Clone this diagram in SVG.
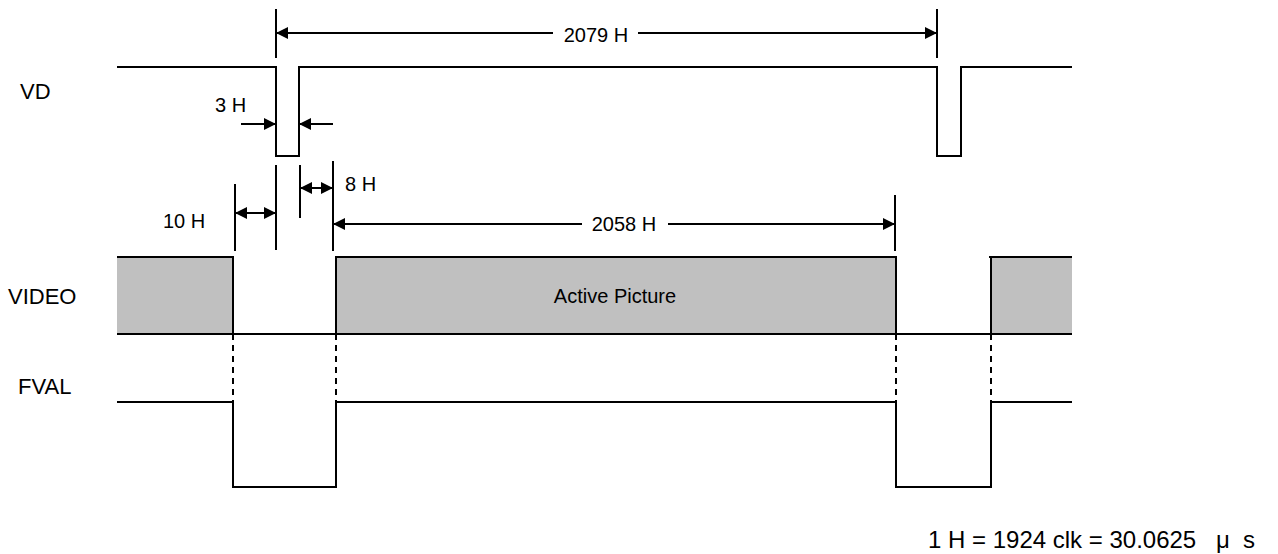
<svg xmlns="http://www.w3.org/2000/svg" width="1278" height="554" viewBox="0 0 1278 554">
<style>
  .sig{fill:none;stroke:#000;stroke-width:2;stroke-linejoin:miter;stroke-linecap:butt}
  .dim{fill:none;stroke:#000;stroke-width:2}
  .dash{fill:none;stroke:#000;stroke-width:2;stroke-dasharray:6 5}
  .gray{fill:#c0c0c0;stroke:none}
  text{font-family:"Liberation Sans",Arial,sans-serif;fill:#000}
  .lbl{font-size:22px}
  .dl{font-size:20px}
  .note{font-size:24px}
</style>
<defs>
  <marker id="ah" viewBox="0 0 10 10" markerUnits="userSpaceOnUse" markerWidth="12" markerHeight="12" refX="10" refY="5" orient="auto-start-reverse">
    <path d="M0,0 L10,5 L0,10 z" fill="#000"/>
  </marker>
</defs>
<rect width="1278" height="554" fill="#fff"/>

<g id="labels">
  <text class="lbl" x="20" y="99">VD</text>
  <text class="lbl" x="8" y="304">VIDEO</text>
  <text class="lbl" x="18" y="394">FVAL</text>
</g>

<g id="vd">
  <path class="sig" d="M117,67 H276 V156 H299 V67 H937 V156 H961 V67 H1072"/>
</g>

<g id="video">
  <rect class="gray" x="117" y="257" width="116" height="77"/>
  <rect class="gray" x="336" y="257" width="560" height="77"/>
  <rect class="gray" x="991" y="257" width="81" height="77"/>
  <path class="sig" d="M117,257 H233 V334"/>
  <path class="sig" d="M336,334 V257 H896 V334"/>
  <path class="sig" d="M989,257 H1072 M991,257 V334"/>
  <path class="sig" d="M117,334 H1072"/>
  <text class="dl" x="615" y="303" text-anchor="middle">Active Picture</text>
</g>

<g id="fval">
  <path class="sig" d="M117,402 H233 V487 H336 V402 H896 V487 H991 V402 H1072"/>
</g>

<g id="connectors">
  <path class="dash" d="M233,334 V402 M336,334 V402 M896,334 V402 M991,334 V402"/>
  <path class="dim" d="M276,9 V58 M937,9 V58"/>
  <line class="dim" x1="553" y1="33" x2="276" y2="33" marker-end="url(#ah)"/>
  <line class="dim" x1="638" y1="33" x2="937" y2="33" marker-end="url(#ah)"/>
  <text class="dl" x="596" y="42" text-anchor="middle">2079 H</text>
  <line class="dim" x1="241" y1="124" x2="276" y2="124" marker-end="url(#ah)"/>
  <line class="dim" x1="333" y1="124" x2="299" y2="124" marker-end="url(#ah)"/>
  <text class="dl" x="215" y="112">3 H</text>
  <path class="dim" d="M276,165 V250 M300,165 V218 M235,184 V251 M333,161 V251 M895,195 V251"/>
  <line class="dim" x1="235" y1="213" x2="276" y2="213" marker-start="url(#ah)" marker-end="url(#ah)"/>
  <text class="dl" x="163" y="228">10 H</text>
  <line class="dim" x1="300" y1="188" x2="333" y2="188" marker-start="url(#ah)" marker-end="url(#ah)"/>
  <text class="dl" x="345" y="191">8 H</text>
  <line class="dim" x1="582" y1="224" x2="333" y2="224" marker-end="url(#ah)"/>
  <line class="dim" x1="668" y1="224" x2="895" y2="224" marker-end="url(#ah)"/>
  <text class="dl" x="624" y="231" text-anchor="middle">2058 H</text>
</g>

<g id="note">
  <text class="note" y="548"><tspan x="928">1 H = 1924 clk = 30.0625</tspan><tspan x="1216">μ</tspan><tspan x="1243">s</tspan></text>
</g>
</svg>
